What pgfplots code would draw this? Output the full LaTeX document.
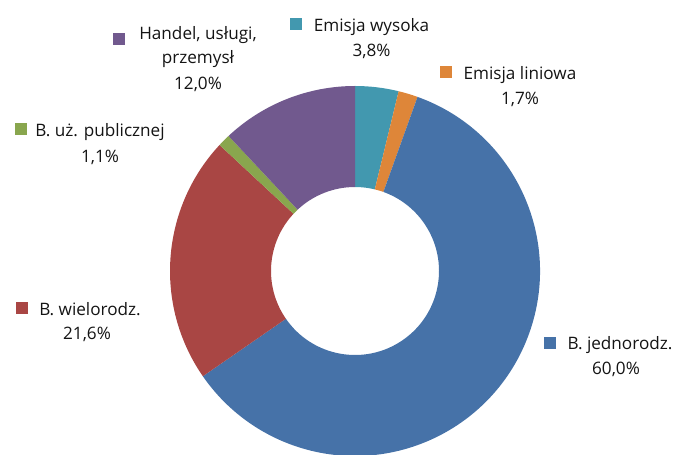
\documentclass[border=0pt]{standalone}
\usepackage{pgfplots}
\pgfplotsset{compat=1.18}
\usepackage{pgfplotstable}
\usetikzlibrary{calc}
\usepackage{fontspec}
\setmainfont{Open Sans}

\definecolor{c0}{HTML}{4298AF}
\definecolor{c1}{HTML}{DE8639}
\definecolor{c2}{HTML}{4672A8}
\definecolor{c3}{HTML}{A94644}
\definecolor{c4}{HTML}{89A64E}
\definecolor{c5}{HTML}{71598E}
\definecolor{txt}{HTML}{141414}

% shares, clockwise from 12 o'clock
\pgfplotstableread{
name value
EmisjaWysoka 3.8
EmisjaLiniowa 1.7
Jednorodz 60.0
Wielorodz 21.6
Publiczne 1.1
Handel 12.0
}\shares

\begin{document}
\begin{tikzpicture}[font=\fontsize{17.2}{20}\selectfont]
% cumulative angles
\def\total{0}
\pgfplotsforeachungrouped \i in {0,...,5}{%
  \pgfplotstablegetelem{\i}{value}\of\shares
  \pgfmathsetmacro\tmp{\total+\pgfplotsretval}%
  \xdef\total{\tmp}%
}
\def\cum{0}
\pgfplotsforeachungrouped \i in {0,...,5}{%
  \pgfplotstablegetelem{\i}{value}\of\shares
  \pgfmathsetmacro\sa{90-\cum/\total*360}%
  \pgfmathsetmacro\cumnew{\cum+\pgfplotsretval}%
  \pgfmathsetmacro\ea{90-\cumnew/\total*360}%
  \expandafter\xdef\csname sa\i\endcsname{\sa}%
  \expandafter\xdef\csname ea\i\endcsname{\ea}%
  \xdef\cum{\cumnew}%
}
\begin{axis}[
  width=676bp, height=455bp, scale only axis,
  xmin=0, xmax=676, ymin=0, ymax=455,
  hide axis,
]
\path (axis cs:0,0) rectangle (axis cs:676,455);
\pgfplotsinvokeforeach{0,...,5}{
  \fill[c#1]
    ($(axis cs:355,184)+(\csname sa#1\endcsname:185bp)$)
    arc[start angle=\csname sa#1\endcsname, end angle=\csname ea#1\endcsname, radius=185bp]
    -- ($(axis cs:355,184)+(\csname ea#1\endcsname:84bp)$)
    arc[start angle=\csname ea#1\endcsname, end angle=\csname sa#1\endcsname, radius=84bp]
    -- cycle;
}
% labels
\fill[c5] (axis cs:113,422) rectangle (axis cs:125,410);
\node[anchor=base, text=txt, inner sep=0pt] at (axis cs:198,415) {Handel, usługi,};
\node[anchor=base, text=txt, inner sep=0pt] at (axis cs:198,391) {przemysł};
\node[anchor=base, text=txt, inner sep=0pt] at (axis cs:198,365) {12,0\%};

\fill[c0] (axis cs:290,437) rectangle (axis cs:302,425);
\node[anchor=base, text=txt, inner sep=0pt] at (axis cs:371.5,423) {Emisja wysoka};
\node[anchor=base, text=txt, inner sep=0pt] at (axis cs:371.5,398) {3,8\%};

\fill[c1] (axis cs:440,389) rectangle (axis cs:452,377);
\node[anchor=base, text=txt, inner sep=0pt] at (axis cs:520,375) {Emisja liniowa};
\node[anchor=base, text=txt, inner sep=0pt] at (axis cs:520,350) {1,7\%};

\fill[c4] (axis cs:15,332) rectangle (axis cs:27,320);
\node[anchor=base, text=txt, inner sep=0pt] at (axis cs:100,318) {B. uż. publicznej};
\node[anchor=base, text=txt, inner sep=0pt] at (axis cs:100,292) {1,1\%};

\fill[c3] (axis cs:16,153) rectangle (axis cs:28,141);
\node[anchor=base, text=txt, inner sep=0pt] at (axis cs:90,139) {B. wielorodz.};
\node[anchor=base, text=txt, inner sep=0pt] at (axis cs:87,115) {21,6\%};

\fill[c2] (axis cs:544,118) rectangle (axis cs:556,106);
\node[anchor=base, text=txt, inner sep=0pt] at (axis cs:620,105) {B. jednorodz.};
\node[anchor=base, text=txt, inner sep=0pt] at (axis cs:616,80) {60,0\%};
\end{axis}
\end{tikzpicture}
\end{document}
